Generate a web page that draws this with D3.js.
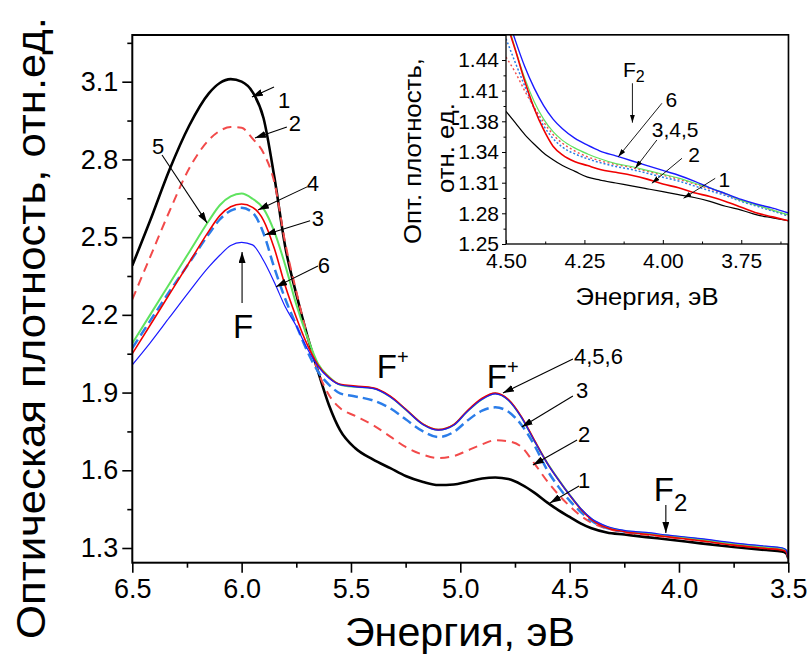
<!DOCTYPE html>
<html>
<head>
<meta charset="utf-8">
<script src="https://cdn.jsdelivr.net/npm/d3@7"></script>
<style>
  html, body { margin: 0; padding: 0; background: #fff; }
  svg { display: block; font-family: "Liberation Sans", Arial, sans-serif; }
</style>
</head>
<body>
<svg id="chart" width="809" height="668"></svg>
<script>
// ---- Main spectrum: energy grid (eV) and optical density for samples 1..6
const mainEnergy = [6.50, 6.42, 6.33, 6.24, 6.15, 6.10, 6.05, 6.00, 5.95, 5.90, 5.85, 5.80, 5.75, 5.70,
  5.65, 5.60, 5.55, 5.48, 5.40, 5.32, 5.25, 5.17, 5.10, 5.03, 4.97, 4.90, 4.84, 4.78, 4.72, 4.66,
  4.60, 4.55, 4.50, 4.45, 4.40, 4.33, 4.25, 4.15, 4.05, 3.90, 3.75, 3.60, 3.53, 3.51, 3.50];

const od1 = [2.39, 2.56, 2.76, 2.93, 3.055, 3.095, 3.11, 3.10, 3.06, 2.96, 2.73, 2.46, 2.28, 2.12,
  1.98, 1.85, 1.755, 1.685, 1.642, 1.608, 1.578, 1.555, 1.543, 1.545, 1.555, 1.568, 1.572, 1.566, 1.545, 1.513,
  1.474, 1.445, 1.42, 1.395, 1.376, 1.36, 1.352, 1.342, 1.333, 1.318, 1.304, 1.292, 1.287, 1.28, 1.26];
const od2 = [2.26, 2.42, 2.60, 2.765, 2.875, 2.91, 2.925, 2.922, 2.88, 2.825, 2.71, 2.475, 2.29, 2.12,
  1.98, 1.89, 1.84, 1.81, 1.775, 1.73, 1.69, 1.66, 1.647, 1.655, 1.675, 1.70, 1.716, 1.712, 1.69, 1.625,
  1.555, 1.505, 1.462, 1.425, 1.398, 1.375, 1.36, 1.351, 1.342, 1.328, 1.312, 1.30, 1.294, 1.287, 1.262];
const od3 = [2.072, 2.175, 2.29, 2.40, 2.512, 2.568, 2.602, 2.613, 2.595, 2.515, 2.38, 2.26, 2.16, 2.06,
  1.98, 1.93, 1.897, 1.885, 1.87, 1.839, 1.797, 1.75, 1.728, 1.748, 1.79, 1.83, 1.843, 1.826, 1.775, 1.695,
  1.597, 1.535, 1.483, 1.44, 1.405, 1.377, 1.364, 1.356, 1.346, 1.332, 1.315, 1.303, 1.297, 1.29, 1.265];
const od4 = [2.05, 2.158, 2.28, 2.402, 2.523, 2.583, 2.617, 2.628, 2.615, 2.565, 2.455, 2.31, 2.19, 2.085,
  2.005, 1.958, 1.932, 1.925, 1.918, 1.886, 1.836, 1.778, 1.757, 1.776, 1.828, 1.878, 1.898, 1.873, 1.806, 1.714,
  1.624, 1.562, 1.504, 1.451, 1.41, 1.378, 1.363, 1.353, 1.343, 1.328, 1.311, 1.298, 1.292, 1.285, 1.262];
const od5 = [2.09, 2.198, 2.32, 2.442, 2.563, 2.623, 2.657, 2.668, 2.648, 2.61, 2.52, 2.39, 2.24, 2.115,
  2.01, 1.96, 1.93, 1.922, 1.917, 1.884, 1.835, 1.777, 1.756, 1.775, 1.826, 1.875, 1.896, 1.871, 1.804, 1.712,
  1.625, 1.563, 1.505, 1.452, 1.412, 1.381, 1.366, 1.357, 1.347, 1.333, 1.316, 1.304, 1.298, 1.29, 1.265];
const od6 = [2.007, 2.09, 2.19, 2.29, 2.385, 2.43, 2.468, 2.48, 2.47, 2.41, 2.325, 2.23, 2.157, 2.07,
  2.0, 1.955, 1.93, 1.922, 1.916, 1.883, 1.834, 1.776, 1.755, 1.774, 1.825, 1.874, 1.895, 1.870, 1.803, 1.711,
  1.624, 1.562, 1.505, 1.453, 1.414, 1.384, 1.368, 1.36, 1.35, 1.336, 1.32, 1.307, 1.301, 1.293, 1.265];

const xTicks = [6.5, 6.0, 5.5, 5.0, 4.5, 4.0, 3.5];
const xMinor = [6.25, 5.75, 5.25, 4.75, 4.25, 3.75];
const yTicks = [1.3, 1.6, 1.9, 2.2, 2.5, 2.8, 3.1];
const yMinor = [1.45, 1.75, 2.05, 2.35, 2.65, 2.95, 3.25];

// ---- Inset: long-wavelength tail (F2 region)
const insetEnergy = [4.50, 4.47, 4.44, 4.41, 4.38, 4.35, 4.32, 4.28, 4.24, 4.20, 4.15, 4.10, 4.05,
  4.00, 3.95, 3.90, 3.85, 3.80, 3.75, 3.70, 3.65, 3.60];
const in1 = [1.387, 1.375, 1.363, 1.353, 1.344, 1.337, 1.331, 1.325, 1.319, 1.316, 1.313, 1.310, 1.307,
  1.304, 1.301, 1.298, 1.294, 1.289, 1.285, 1.280, 1.277, 1.274];
const in2 = [1.48, 1.45, 1.418, 1.39, 1.368, 1.351, 1.342, 1.335, 1.331, 1.327, 1.324, 1.321, 1.317,
  1.312, 1.308, 1.303, 1.299, 1.294, 1.288, 1.282, 1.278, 1.274];
const in3 = [1.462, 1.437, 1.413, 1.39, 1.372, 1.359, 1.35, 1.343, 1.338, 1.334, 1.33, 1.327, 1.323,
  1.319, 1.315, 1.31, 1.305, 1.30, 1.294, 1.289, 1.284, 1.279];
const in4 = [1.443, 1.427, 1.408, 1.391, 1.376, 1.363, 1.354, 1.346, 1.34, 1.336, 1.332, 1.329, 1.325,
  1.321, 1.317, 1.312, 1.307, 1.301, 1.295, 1.29, 1.285, 1.279];
const in5 = [1.485, 1.451, 1.421, 1.397, 1.379, 1.366, 1.357, 1.349, 1.343, 1.338, 1.333, 1.330, 1.326,
  1.322, 1.318, 1.313, 1.308, 1.302, 1.295, 1.29, 1.285, 1.28];
const in6 = [1.49, 1.46, 1.433, 1.411, 1.393, 1.379, 1.369, 1.359, 1.352, 1.346, 1.341, 1.336, 1.331,
  1.326, 1.321, 1.315, 1.308, 1.302, 1.296, 1.291, 1.287, 1.282];

const insetXTicks = [4.50, 4.25, 4.00, 3.75];
const insetXMinor = [4.375, 4.125, 3.875, 3.625];
const insetYTicks = [1.25, 1.2817, 1.3133, 1.345, 1.3767, 1.4083, 1.44];
const insetYLabels = ["1.25", "1.28", "1.31", "1.34", "1.38", "1.41", "1.44"];

const svg = d3.select("#chart");

// arrowheads
const defs = svg.append("defs");
function arrowMarker(id, len, wid) {
  defs.append("marker").attr("id", id)
    .attr("markerUnits", "userSpaceOnUse")
    .attr("markerWidth", len).attr("markerHeight", wid)
    .attr("refX", len).attr("refY", wid / 2)
    .attr("orient", "auto")
    .append("path").attr("d", `M0,0 L${len},${wid / 2} L0,${wid} Z`).attr("fill", "#000");
}
arrowMarker("arrow", 11, 7);
arrowMarker("arrowSmall", 8, 5);

// ================= main chart =================
const box = { left: 132.3, right: 788.3, top: 35, bottom: 562.7 };
const x = d3.scaleLinear().domain([6.5, 3.5]).range([box.left, box.right]);
const y = d3.scaleLinear().domain([1.3, 3.1]).range([548, 81.7]);

defs.append("clipPath").attr("id", "clipMain").append("rect")
  .attr("x", box.left).attr("y", box.top).attr("width", box.right - box.left).attr("height", box.bottom - box.top);

const mainSeries = [
  { values: od1, color: "#000000", width: 2.6, dash: null },
  { values: od2, color: "#f24a4a", width: 2.0, dash: "9,6" },
  { values: od3, color: "#2b7de9", width: 2.5, dash: "10,5" },
  { values: od5, color: "#5fe35f", width: 2.0, dash: null },
  { values: od4, color: "#f00000", width: 1.6, dash: null },
  { values: od6, color: "#1a1aff", width: 1.2, dash: null }
];

const line = d3.line().x(d => x(d[0])).y(d => y(d[1])).curve(d3.curveMonotoneX);
const gCurves = svg.append("g").attr("clip-path", "url(#clipMain)");
mainSeries.forEach(s => {
  gCurves.append("path")
    .datum(mainEnergy.map((e, i) => [e, s.values[i]]))
    .attr("d", line)
    .attr("fill", "none")
    .attr("stroke", s.color)
    .attr("stroke-width", s.width)
    .attr("stroke-dasharray", s.dash)
    .attr("stroke-linejoin", "round");
});

// axes
const fmt1 = d3.format(".1f");
const gx = svg.append("g").attr("transform", `translate(0,${box.bottom})`)
  .call(d3.axisBottom(x).tickValues(xTicks).tickFormat(fmt1).tickSize(10).tickSizeOuter(0).tickPadding(6));
svg.append("g").attr("transform", `translate(0,${box.bottom})`)
  .call(d3.axisBottom(x).tickValues(xMinor).tickFormat("").tickSize(5).tickSizeOuter(0));
const gy = svg.append("g").attr("transform", `translate(${box.left},0)`)
  .call(d3.axisLeft(y).tickValues(yTicks).tickFormat(fmt1).tickSize(10).tickSizeOuter(0).tickPadding(4));
svg.append("g").attr("transform", `translate(${box.left},0)`)
  .call(d3.axisLeft(y).tickValues(yMinor).tickFormat("").tickSize(5).tickSizeOuter(0));
svg.selectAll(".domain").remove();
svg.selectAll(".tick line").attr("stroke", "#000").attr("stroke-width", 1.6);
gx.selectAll(".tick text").attr("font-size", 27).attr("fill", "#000").attr("font-family", "Liberation Sans, Arial, sans-serif");
gy.selectAll(".tick text").attr("font-size", 27).attr("fill", "#000").attr("font-family", "Liberation Sans, Arial, sans-serif");

svg.append("rect")
  .attr("x", box.left).attr("y", box.top)
  .attr("width", box.right - box.left).attr("height", box.bottom - box.top)
  .attr("fill", "none").attr("stroke", "#000").attr("stroke-width", 2);

// axis titles
svg.append("text")
  .attr("x", 460).attr("y", 646)
  .attr("text-anchor", "middle").attr("font-size", 41)
  .attr("textLength", 230).attr("lengthAdjust", "spacingAndGlyphs")
  .text("Энергия, эВ");
svg.append("text")
  .attr("transform", "rotate(-90)")
  .attr("x", -328).attr("y", 45)
  .attr("text-anchor", "middle").attr("font-size", 41)
  .attr("textLength", 622).attr("lengthAdjust", "spacingAndGlyphs")
  .text("Оптическая плотность, отн.ед.");

// curve annotations: [label, textE, textOD, fromE, fromOD, toE, toOD]
const mainLabels = [
  ["1", 5.806, 3.000, 5.852, 3.080, 5.953, 3.041],
  ["2", 5.756, 2.910, 5.793, 2.925, 5.939, 2.883],
  ["5", 6.382, 2.821, 6.364, 2.817, 6.158, 2.555],
  ["4", 5.674, 2.678, 5.701, 2.694, 5.925, 2.605],
  ["3", 5.651, 2.543, 5.687, 2.563, 5.893, 2.509],
  ["6", 5.624, 2.362, 5.651, 2.389, 5.843, 2.308],
  ["3", 4.443, 1.879, 4.485, 1.887, 4.719, 1.767],
  ["2", 4.434, 1.710, 4.466, 1.717, 4.668, 1.620],
  ["1", 4.434, 1.532, 4.457, 1.539, 4.590, 1.474]
];
mainLabels.forEach(d => {
  svg.append("line")
    .attr("x1", x(d[3])).attr("y1", y(d[4])).attr("x2", x(d[5])).attr("y2", y(d[6]))
    .attr("stroke", "#000").attr("stroke-width", 1.1).attr("marker-end", "url(#arrow)");
  svg.append("text").attr("x", x(d[1])).attr("y", y(d[2]))
    .attr("text-anchor", "middle").attr("font-size", 22).text(d[0]);
});
// "4,5,6" label
svg.append("line")
  .attr("x1", x(4.485)).attr("y1", y(2.030)).attr("x2", x(4.805)).attr("y2", y(1.898))
  .attr("stroke", "#000").attr("stroke-width", 1.1).attr("marker-end", "url(#arrow)");
svg.append("text").attr("x", x(4.48)).attr("y", y(2.010)).attr("font-size", 22).text("4,5,6");

// F band
svg.append("line")
  .attr("x1", x(5.998)).attr("y1", y(2.246)).attr("x2", x(5.998)).attr("y2", y(2.443))
  .attr("stroke", "#000").attr("stroke-width", 1.1).attr("marker-end", "url(#arrow)");
svg.append("text").attr("x", x(5.993)).attr("y", y(2.111))
  .attr("text-anchor", "middle").attr("font-size", 33).text("F");

// F+ bands
[[5.382, 1.956], [4.879, 1.918]].forEach(p => {
  const t = svg.append("text").attr("x", x(p[0])).attr("y", y(p[1])).attr("font-size", 33);
  t.append("tspan").text("F");
  t.append("tspan").attr("font-size", 20).attr("dy", -14).text("+");
});

// F2 band
svg.append("line")
  .attr("x1", x(4.060)).attr("y1", y(1.466)).attr("x2", x(4.060)).attr("y2", y(1.358))
  .attr("stroke", "#000").attr("stroke-width", 1.1).attr("marker-end", "url(#arrow)");
{
  const t = svg.append("text").attr("x", x(4.115)).attr("y", y(1.481)).attr("font-size", 33);
  t.append("tspan").text("F");
  t.append("tspan").attr("font-size", 24).attr("dy", 10).text("2");
}

// ================= inset =================
const ib = { left: 506, right: 788.3, top: 35, bottom: 244 };
const xi = d3.scaleLinear().domain([4.5, 3.6]).range([ib.left, ib.right]);
const yi = d3.scaleLinear().domain([1.25, 1.44]).range([ib.bottom, 60]);

svg.append("rect").attr("x", ib.left).attr("y", ib.top)
  .attr("width", ib.right - ib.left).attr("height", ib.bottom - ib.top).attr("fill", "#fff");
defs.append("clipPath").attr("id", "clipInset").append("rect")
  .attr("x", ib.left).attr("y", ib.top).attr("width", ib.right - ib.left).attr("height", ib.bottom - ib.top);

const insetSeries = [
  { values: in1, color: "#000000", width: 1.2, dash: null },
  { values: in4, color: "#f24a4a", width: 1.4, dash: "2,2.5" },
  { values: in3, color: "#2b7de9", width: 1.5, dash: "2,2" },
  { values: in5, color: "#5fe35f", width: 1.2, dash: null },
  { values: in2, color: "#f00000", width: 1.6, dash: null },
  { values: in6, color: "#1a1aff", width: 1.4, dash: null }
];
const lineI = d3.line().x(d => xi(d[0])).y(d => yi(d[1])).curve(d3.curveMonotoneX);
const gInset = svg.append("g").attr("clip-path", "url(#clipInset)");
insetSeries.forEach(s => {
  gInset.append("path")
    .datum(insetEnergy.map((e, i) => [e, s.values[i]]))
    .attr("d", lineI)
    .attr("fill", "none")
    .attr("stroke", s.color)
    .attr("stroke-width", s.width)
    .attr("stroke-dasharray", s.dash);
});

const gxi = svg.append("g").attr("transform", `translate(0,${ib.bottom})`)
  .call(d3.axisBottom(xi).tickValues(insetXTicks).tickFormat(d3.format(".2f")).tickSize(-4).tickSizeOuter(0).tickPadding(9));
const gxim = svg.append("g").attr("transform", `translate(0,${ib.bottom})`)
  .call(d3.axisBottom(xi).tickValues(insetXMinor).tickFormat("").tickSize(-2.5).tickSizeOuter(0));
const gyi = svg.append("g").attr("transform", `translate(${ib.left},0)`)
  .call(d3.axisLeft(yi).tickValues(insetYTicks).tickFormat((d, i) => insetYLabels[i]).tickSize(4).tickSizeOuter(0).tickPadding(3));
const yMinorInset = insetYTicks.slice(1).map((v, i) => (v + insetYTicks[i]) / 2);
const gyim = svg.append("g").attr("transform", `translate(${ib.left},0)`)
  .call(d3.axisLeft(yi).tickValues(yMinorInset).tickFormat("").tickSize(2.5).tickSizeOuter(0));
[gxi, gxim, gyi, gyim].forEach(g => {
  g.select(".domain").remove();
  g.selectAll(".tick line").attr("stroke", "#000").attr("stroke-width", 1);
  g.selectAll(".tick text").attr("font-size", 21).attr("fill", "#000").attr("font-family", "Liberation Sans, Arial, sans-serif");
});
svg.append("rect").attr("x", ib.left).attr("y", ib.top)
  .attr("width", ib.right - ib.left).attr("height", ib.bottom - ib.top)
  .attr("fill", "none").attr("stroke", "#000").attr("stroke-width", 1.3);

svg.append("text").attr("x", 647).attr("y", 305)
  .attr("text-anchor", "middle").attr("font-size", 24)
  .attr("textLength", 143).attr("lengthAdjust", "spacingAndGlyphs").text("Энергия, эВ");
svg.append("text").attr("transform", "rotate(-90)")
  .attr("x", -151).attr("y", 421)
  .attr("text-anchor", "middle").attr("font-size", 24)
  .attr("textLength", 186).attr("lengthAdjust", "spacingAndGlyphs").text("Опт. плотность,");
svg.append("text").attr("transform", "rotate(-90)")
  .attr("x", -148).attr("y", 454)
  .attr("text-anchor", "middle").attr("font-size", 24)
  .attr("textLength", 90).attr("lengthAdjust", "spacingAndGlyphs").text("отн. ед.");

// inset annotations: [label, textE, textOD, anchor, fromE, fromOD, toE, toOD]
const insetLabels = [
  ["6", 3.973, 1.3918, "middle", 4.003, 1.3953, 4.142, 1.3401],
  ["3,4,5", 4.035, 1.3608, "start", 4.019, 1.3574, 4.088, 1.3282],
  ["2", 3.900, 1.3350, "middle", 3.939, 1.3385, 4.035, 1.3127],
  ["1", 3.804, 1.3092, "middle", 3.833, 1.3178, 3.934, 1.2972]
];
insetLabels.forEach(d => {
  svg.append("line")
    .attr("x1", xi(d[4])).attr("y1", yi(d[5])).attr("x2", xi(d[6])).attr("y2", yi(d[7]))
    .attr("stroke", "#000").attr("stroke-width", 0.9).attr("marker-end", "url(#arrowSmall)");
  svg.append("text").attr("x", xi(d[1])).attr("y", yi(d[2]))
    .attr("text-anchor", d[3]).attr("font-size", 21).text(d[0]);
});
svg.append("line")
  .attr("x1", xi(4.097)).attr("y1", yi(1.416)).attr("x2", xi(4.097)).attr("y2", yi(1.3753))
  .attr("stroke", "#000").attr("stroke-width", 0.9).attr("marker-end", "url(#arrowSmall)");
{
  const t = svg.append("text").attr("x", xi(4.127)).attr("y", yi(1.4224)).attr("font-size", 21);
  t.append("tspan").text("F");
  t.append("tspan").attr("font-size", 16).attr("dy", 5).text("2");
}
</script>
</body>
</html>
